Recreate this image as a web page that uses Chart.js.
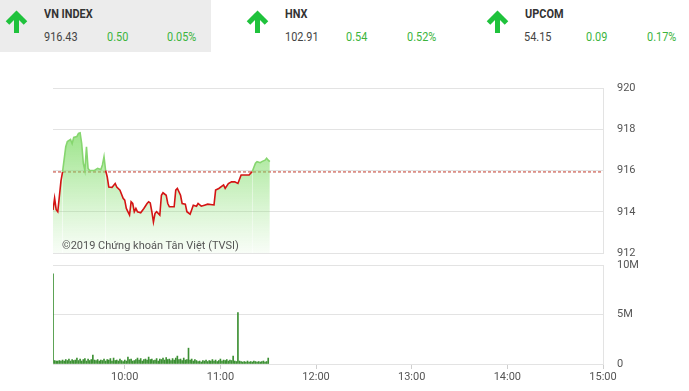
<!DOCTYPE html>
<html>
<head>
<meta charset="utf-8">
<script src="https://cdn.jsdelivr.net/npm/chart.js@4.4.1/dist/chart.umd.min.js"></script>
<style>
  body { margin: 0; width: 689px; height: 391px; background: #fff; font-family: Roboto, Arial, sans-serif; overflow: hidden; position: relative; }
  .box { position: absolute; top: 0; height: 52px; }
  .gray { background: #ececec; }
  .arrow { position: absolute; left: 4px; top: 10px; }
  .name { position: absolute; left: 44px; top: 6px; font-size: 13px; font-weight: bold; color: #333; transform: scaleX(0.84); transform-origin: left; white-space: nowrap; }
  .num { position: absolute; top: 29px; font-size: 13px; color: #444; transform: scaleX(0.84); transform-origin: left; white-space: nowrap; }
  .up { color: #3cb43c; }
  #priceWrap { position: absolute; left: 0; top: 78px; width: 689px; height: 185px; }
  #volWrap { position: absolute; left: 0; top: 255px; width: 689px; height: 136px; }
  #copy { position: absolute; left: 62px; top: 239px; font-size: 11px; color: #555; }
</style>
</head>
<body>
<div class="box gray" style="left:0;width:211px;">
  <svg class="arrow" width="25" height="24" viewBox="0 0 24 24"><path d="M12 23 V4 M3 13 L12 4 L21 13" stroke="#1fc23c" stroke-width="5" fill="none"/></svg>
  <div class="name">VN INDEX</div>
  <div class="num" style="left:44px;">916.43</div>
  <div class="num up" style="left:107px;">0.50</div>
  <div class="num up" style="left:167px;">0.05%</div>
</div>
<div class="box" style="left:241px;width:230px;">
  <svg class="arrow" width="25" height="24" viewBox="0 0 24 24"><path d="M12 23 V4 M3 13 L12 4 L21 13" stroke="#1fc23c" stroke-width="5" fill="none"/></svg>
  <div class="name">HNX</div>
  <div class="num" style="left:44px;">102.91</div>
  <div class="num up" style="left:105px;">0.54</div>
  <div class="num up" style="left:166px;">0.52%</div>
</div>
<div class="box" style="left:481px;width:208px;">
  <svg class="arrow" width="25" height="24" viewBox="0 0 24 24"><path d="M12 23 V4 M3 13 L12 4 L21 13" stroke="#1fc23c" stroke-width="5" fill="none"/></svg>
  <div class="name">UPCOM</div>
  <div class="num" style="left:43px;">54.15</div>
  <div class="num up" style="left:105px;">0.09</div>
  <div class="num up" style="left:166px;">0.17%</div>
</div>

<div id="priceWrap"><canvas id="price"></canvas></div>
<div id="volWrap"><canvas id="vol"></canvas></div>
<div id="copy">©2019 Chứng khoán Tân Việt (TVSI)</div>

<script>
// minutes after 09:00
const priceTimes = [15,16,17,18,20,21,23,24,26,27,28,30,31,32,33,34,35,36,37,38,41,43,45,46,47,48,49,50,52,54,55,57,59,60,61,63,64,65,66,67,68,70,72,74,75,76,77,78,79,80,82,83,84,86,87,88,90,91,92,93,95,96,98,99,101,103,105,106,108,110,112,116,117,119,122,123,125,127,129,131,133,135,138,140,142,143,145,146,148,149,150,151];
const priceValues = [914.08,914.66,914.1,914.0,915.5,915.93,917.15,917.4,917.5,917.3,917.6,917.65,917.8,917.83,917.3,916.36,916.0,917.15,916.1,916.0,916.0,916.1,916.05,916.27,916.67,916.0,915.7,915.2,915.18,915.37,915.2,915.05,914.65,914.56,914.16,913.84,914.48,914.4,914.0,914.16,914.0,913.95,914.16,914.4,914.48,914.43,914.0,913.5,913.92,914.0,913.84,914.8,914.92,914.8,914.4,914.24,914.24,914.24,915.05,915.13,914.8,914.4,914.37,914.0,913.88,914.32,914.27,914.4,914.27,914.32,914.37,914.33,915.05,915.13,915.3,915.13,915.37,915.45,915.45,915.37,915.78,915.78,915.78,915.95,916.35,916.43,916.38,916.43,916.5,916.59,916.5,916.43];
const refPrice = 915.93;

// volume in millions, one bar per minute from 09:15
const volStart = 15;
const volValues = [
  9.1,0.35,0.3,0.3,0.35,0.3,0.4,0.3,0.45,0.35,
  0.5,0.3,0.45,0.35,0.4,0.6,0.35,0.5,0.3,0.45,
  0.55,0.3,0.5,0.35,0.45,0.9,0.4,0.35,0.45,0.3,
  0.4,0.35,0.5,0.3,0.45,0.4,0.55,0.3,0.6,0.35,
  0.4,0.3,0.5,0.35,0.25,0.4,0.3,0.7,0.45,0.5,
  0.3,0.35,0.45,0.6,0.4,0.55,0.3,0.45,0.5,0.4,
  0.7,0.45,0.5,0.35,0.4,0.55,0.3,0.5,0.45,0.6,
  0.4,0.65,0.45,0.5,0.35,0.55,0.4,0.6,0.8,0.45,
  0.5,0.35,0.6,0.4,0.45,1.6,0.4,0.5,0.3,0.45,
  0.35,0.25,0.3,0.2,0.35,0.3,0.4,0.25,0.35,0.3,
  0.45,0.3,0.4,0.25,0.35,0.5,0.3,0.4,0.35,0.45,
  0.3,0.4,0.35,0.8,0.3,0.25,5.2,0.3,0.25,0.2,
  0.25,0.2,0.3,0.2,0.25,0.2,0.3,0.25,0.2,0.25,
  0.2,0.25,0.3,0.2,0.25,0.6
];

const hourTicks = [60,120,180,240,300,360];
const priceTicks = [912,914,916,918,920];
const volTicks = [0,5,10];

const gridColor = '#e3e3e3';
const tickColor = '#555';
const tickFont = { family: 'Roboto, Arial, sans-serif', size: 11 };

function fmtTime(m) {
  const h = 9 + Math.floor(m / 60);
  const mm = m % 60;
  return h + ':' + (mm < 10 ? '0' : '') + mm;
}

const priceData = priceTimes.map((t, i) => ({ x: t, y: priceValues[i] }));
const refData = [{ x: 15, y: refPrice }, { x: 360, y: refPrice }];

// right hand value axis; the invisible tick marks push labels out
function rightAxis(min, max, ticks, cb) {
  return {
    position: 'right',
    min: min,
    max: max,
    afterBuildTicks: (s) => { s.ticks = ticks.map(v => ({ value: v })); },
    afterFit: (s) => { s.width = 86; },
    grid: { color: gridColor, drawTicks: true, tickLength: 11, tickColor: 'rgba(0,0,0,0)' },
    border: { display: true, color: gridColor },
    ticks: { color: tickColor, font: tickFont, padding: 3, callback: cb }
  };
}

new Chart(document.getElementById('price'), {
  type: 'line',
  data: {
    datasets: [
      {
        data: priceData,
        borderWidth: 1.6,
        pointRadius: 0,
        tension: 0,
        fill: 'start',
        segment: {
          borderColor: (c) => (c.p0.parsed.y >= refPrice - 0.01 && c.p1.parsed.y >= refPrice - 0.01) ? '#86d66f' : '#d41414'
        },
        backgroundColor: (c) => {
          const area = c.chart.chartArea;
          if (!area) return 'rgba(120,215,100,0.3)';
          const g = c.chart.ctx.createLinearGradient(0, area.top, 0, area.bottom);
          g.addColorStop(0, 'rgba(110,215,85,0.9)');
          g.addColorStop(0.35, 'rgba(120,218,95,0.65)');
          g.addColorStop(1, 'rgba(140,225,120,0.06)');
          return g;
        }
      },
      {
        data: refData,
        borderColor: '#c0392b',
        borderWidth: 1,
        borderDash: [3, 2],
        pointRadius: 0,
        fill: false
      }
    ]
  },
  options: {
    responsive: true,
    maintainAspectRatio: false,
    animation: false,
    layout: { padding: { left: 53, top: 10, bottom: 10, right: 0 } },
    plugins: { legend: { display: false }, tooltip: { enabled: false } },
    scales: {
      x: { type: 'linear', min: 15, max: 360, display: false },
      y: rightAxis(912, 920, priceTicks, (v) => v)
    }
  }
});

new Chart(document.getElementById('vol'), {
  type: 'bar',
  data: {
    datasets: [{
      data: volValues.map((v, i) => ({ x: volStart + i, y: v })),
      backgroundColor: '#3c9033',
      barThickness: 1
    }]
  },
  options: {
    responsive: true,
    maintainAspectRatio: false,
    animation: false,
    layout: { padding: { left: 53, top: 10, bottom: 0, right: 0 } },
    plugins: { legend: { display: false }, tooltip: { enabled: false } },
    scales: {
      x: {
        type: 'linear',
        min: 15,
        max: 360,
        offset: false,
        afterBuildTicks: (s) => { s.ticks = hourTicks.map(v => ({ value: v })); },
        afterFit: (s) => { s.height = 27; },
        grid: { display: true, drawOnChartArea: false, drawTicks: true, tickLength: 5, color: '#cfcfcf', offset: false },
        border: { display: true, color: gridColor },
        ticks: { color: tickColor, font: tickFont, padding: 2, maxRotation: 0, callback: (v) => fmtTime(v) }
      },
      y: rightAxis(0, 10, volTicks, (v) => v === 0 ? '0' : v + 'M')
    }
  }
});
</script>
</body>
</html>
